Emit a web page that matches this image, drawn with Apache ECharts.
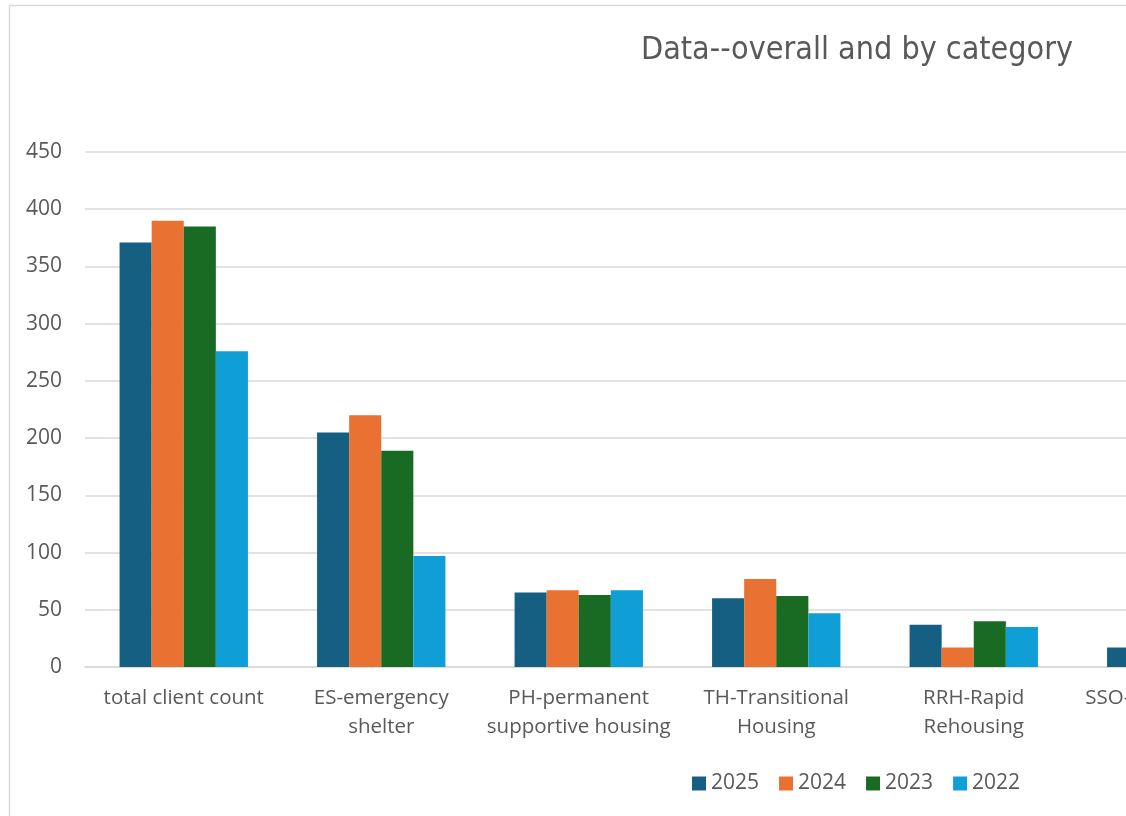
<!DOCTYPE html>
<html>
<head>
<meta charset="utf-8">
<script src="https://cdn.jsdelivr.net/npm/echarts@6/dist/echarts.min.js"></script>
<style>
html,body{margin:0;padding:0;background:#fff;}
#chart{width:1126px;height:816px;}
</style>
</head>
<body>
<div id="chart"></div>
<script>
const categories = ['total client count', 'ES-emergency\nshelter', 'PH-permanent\nsupportive housing', 'TH-Transitional\nHousing', 'RRH-Rapid\nRehousing', 'SSO-Services Only'];
const seriesNames = ['2025', '2024', '2023', '2022'];
const values2025 = [371, 205, 65, 60, 37, 17];
const values2024 = [390, 220, 67, 77, 17, null];
const values2023 = [385, 189, 63, 62, 40, null];
const values2022 = [276, 97, 67, 47, 35, null];
const yTicks = [0, 50, 100, 150, 200, 250, 300, 350, 400, 450];
const colors = ['#156082', '#E97132', '#196B24', '#0F9ED5'];

const allValues = [values2025, values2024, values2023, values2022];
const font = '"Open Sans", "Noto Sans", sans-serif';

const chart = echarts.init(document.getElementById('chart'));
chart.setOption({
  animation: false,
  backgroundColor: '#fff',
  title: {
    text: 'Data--overall and by category',
    left: 636,
    top: 30,
    textStyle: {fontFamily: '"DejaVu Sans Condensed", "Open Sans", sans-serif', fontSize: 32, fontWeight: 'normal', color: '#595959'}
  },
  graphic: [
    {type: 'line', shape: {x1: 9.5, y1: 5.5, x2: 1126, y2: 5.5}, style: {stroke: '#d9d9d9', lineWidth: 1.5}, silent: true},
    {type: 'line', shape: {x1: 9.5, y1: 5.5, x2: 9.5, y2: 816}, style: {stroke: '#d9d9d9', lineWidth: 1.5}, silent: true}
  ],
  legend: {
    data: seriesNames,
    left: 687,
    top: 768,
    itemWidth: 14,
    itemHeight: 14,
    itemGap: 20,
    icon: 'rect',
    textStyle: {fontFamily: font, fontSize: 21, color: '#595959'}
  },
  grid: {left: 85, top: 152, height: 515, width: 1185, containLabel: false, outerBoundsMode: 'none'},
  xAxis: {
    type: 'category',
    data: categories,
    axisLine: {lineStyle: {color: '#d9d9d9', width: 1.5}},
    axisTick: {show: false},
    axisLabel: {fontFamily: font, fontSize: 20.5, color: '#595959', margin: 17, lineHeight: 29, interval: 0}
  },
  yAxis: {
    type: 'value',
    min: yTicks[0],
    max: yTicks[yTicks.length - 1],
    interval: 50,
    axisLine: {show: false},
    axisTick: {show: false},
    splitLine: {lineStyle: {color: '#d9d9d9', width: 1.5}},
    axisLabel: {fontFamily: font, fontSize: 21, color: '#595959', margin: 23}
  },
  series: seriesNames.map((name, i) => ({
    name: name,
    type: 'bar',
    data: allValues[i],
    barGap: '0%',
    barCategoryGap: '35%',
    itemStyle: {color: colors[i]}
  }))
});
</script>
</body>
</html>
